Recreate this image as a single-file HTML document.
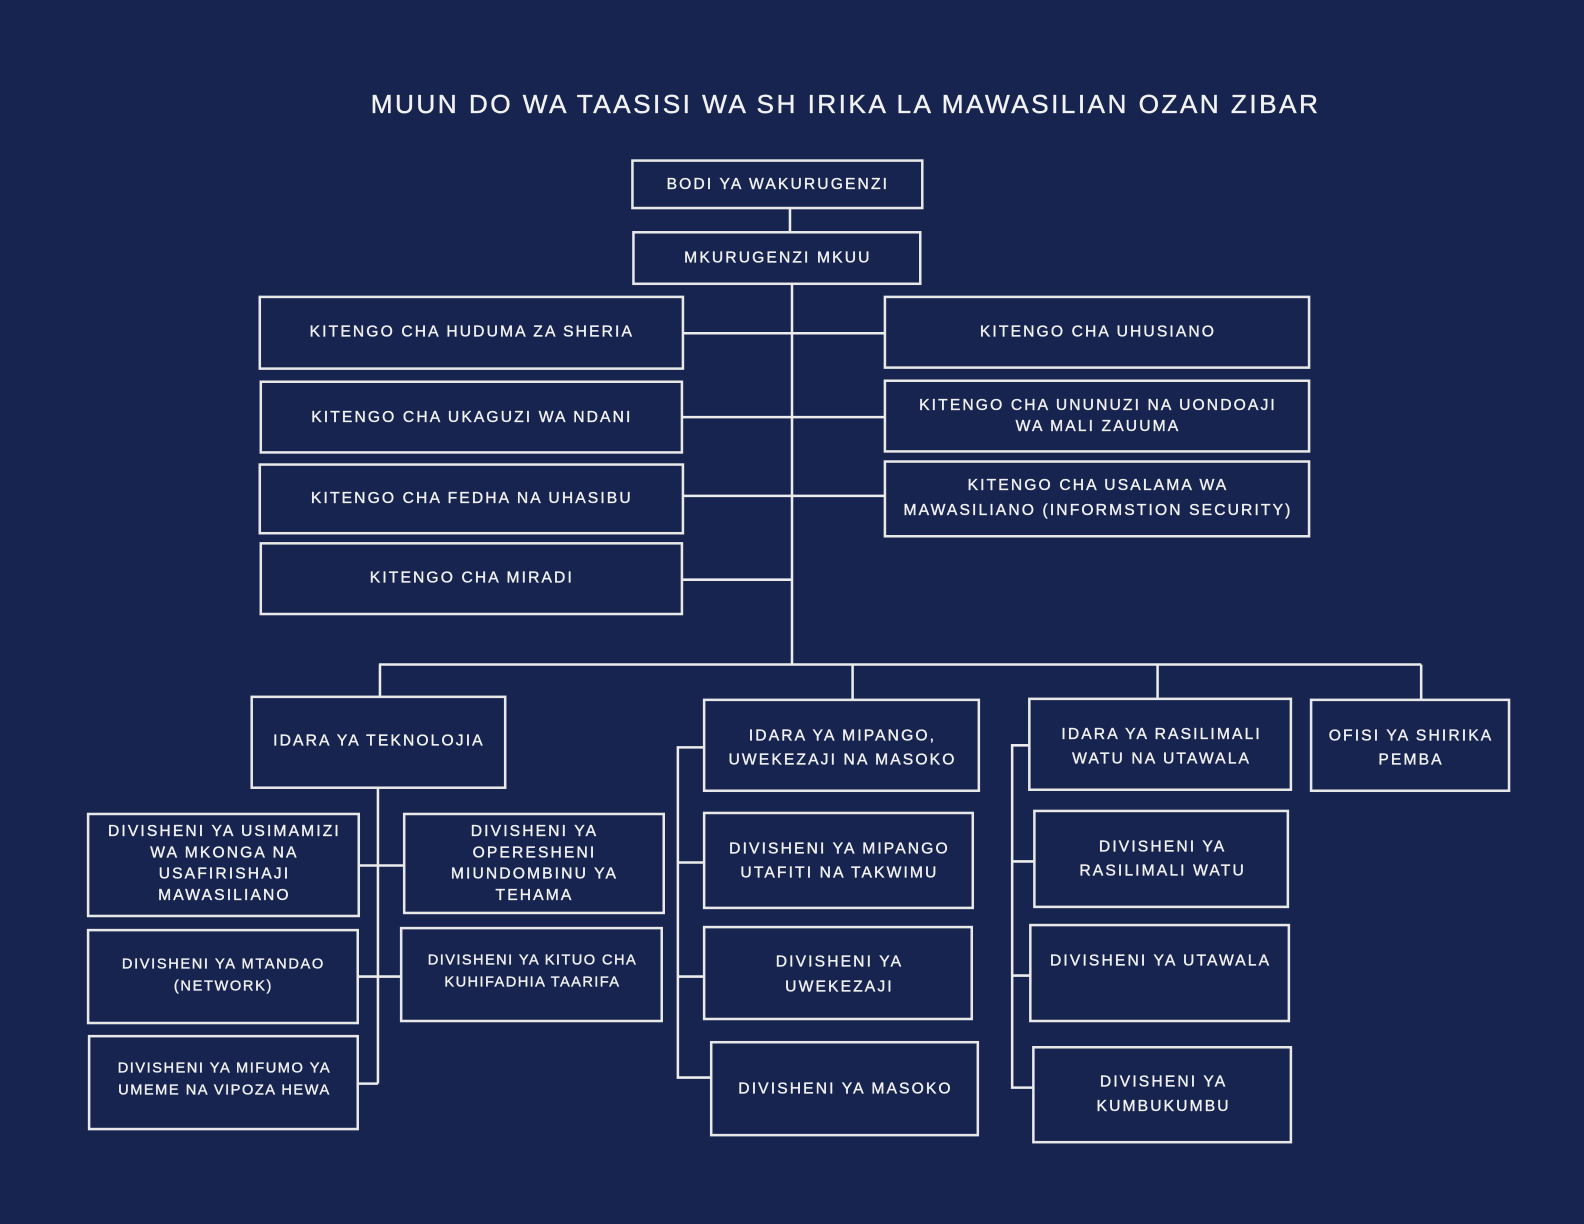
<!DOCTYPE html>
<html><head><meta charset="utf-8"><style>
html,body{margin:0;padding:0;background:#17244f;}
svg{display:block;}
text{font-family:"Liberation Sans",sans-serif;fill:#f2f2f2;font-size:15.5px;text-anchor:middle;letter-spacing:2.1px;stroke:#f2f2f2;stroke-width:0.35px;}
rect{fill:#17244f;stroke:#e8e8e8;stroke-width:2.5;}
line,polyline{stroke:#ececec;stroke-width:2.5;fill:none;}
</style></head><body>
<svg width="1584" height="1224" viewBox="0 0 1568 1212" xmlns="http://www.w3.org/2000/svg">
<rect x="0" y="0" width="1568" height="1212" style="stroke:none"/>
<text x="837" y="112" style="font-size:26px;letter-spacing:2.4px">MUUN DO WA TAASISI WA SH IRIKA LA MAWASILIAN OZAN ZIBAR</text>

<!-- connectors -->
<line x1="782" y1="206" x2="782" y2="230"/>
<line x1="784" y1="281" x2="784" y2="658"/>
<line x1="676" y1="330" x2="876" y2="330"/>
<line x1="675" y1="413" x2="876" y2="413"/>
<line x1="676" y1="491" x2="876" y2="491"/>
<line x1="675" y1="574" x2="784" y2="574"/>
<line x1="375" y1="658" x2="1407" y2="658"/>
<line x1="376" y1="658" x2="376" y2="690"/>
<line x1="844" y1="658" x2="844" y2="693"/>
<line x1="1146" y1="658" x2="1146" y2="692"/>
<line x1="1407" y1="658" x2="1407" y2="693"/>

<line x1="374" y1="780" x2="374" y2="1073"/>
<line x1="355" y1="857" x2="400" y2="857"/>
<line x1="354" y1="967" x2="397" y2="967"/>
<line x1="354" y1="1073" x2="374" y2="1073"/>

<polyline points="697,740 671,740 671,1067 704,1067"/>
<line x1="671" y1="854" x2="697" y2="854"/>
<line x1="671" y1="967" x2="697" y2="967"/>

<polyline points="1019,738 1002,738 1002,1077 1023,1077"/>
<line x1="1002" y1="853" x2="1024" y2="853"/>
<line x1="1002" y1="966" x2="1020" y2="966"/>

<!-- boxes -->
<rect x="626" y="159" width="287" height="47"/><text x="770" y="187">BODI YA WAKURUGENZI</text>
<rect x="627" y="230" width="284" height="51"/><text x="770" y="260">MKURUGENZI MKUU</text>

<rect x="257" y="294" width="419" height="71"/><text x="467" y="333">KITENGO CHA HUDUMA ZA SHERIA</text>
<rect x="258" y="378" width="417" height="70"/><text x="467" y="418">KITENGO CHA UKAGUZI WA NDANI</text>
<rect x="257" y="460" width="419" height="68"/><text x="467" y="498">KITENGO CHA FEDHA NA UHASIBU</text>
<rect x="258" y="538" width="417" height="70"/><text x="467" y="577">KITENGO CHA MIRADI</text>

<rect x="876" y="294" width="420" height="70"/><text x="1087" y="333">KITENGO CHA UHUSIANO</text>
<rect x="876" y="377" width="420" height="70"/><text x="1087" y="406">KITENGO CHA UNUNUZI NA UONDOAJI</text><text x="1087" y="427">WA MALI ZAUUMA</text>
<rect x="876" y="457" width="420" height="74"/><text x="1087" y="485">KITENGO CHA USALAMA WA</text><text x="1087" y="510">MAWASILIANO (INFORMSTION SECURITY)</text>

<rect x="249" y="690" width="251" height="90"/><text x="375" y="738">IDARA YA TEKNOLOJIA</text>
<rect x="697" y="693" width="272" height="90"/><text x="834" y="733">IDARA YA MIPANGO,</text><text x="834" y="757">UWEKEZAJI NA MASOKO</text>
<rect x="1019" y="692" width="259" height="90"/><text x="1150" y="732">IDARA YA RASILIMALI</text><text x="1150" y="756">WATU NA UTAWALA</text>
<rect x="1298" y="693" width="196" height="90"/><text x="1397" y="733">OFISI YA SHIRIKA</text><text x="1397" y="757">PEMBA</text>

<rect x="87" y="806" width="268" height="101"/><text x="222" y="828">DIVISHENI YA USIMAMIZI</text><text x="222" y="849">WA MKONGA NA</text><text x="222" y="870">USAFIRISHAJI</text><text x="222" y="891">MAWASILIANO</text>
<rect x="400" y="806" width="257" height="98"/><text x="529" y="828">DIVISHENI YA</text><text x="529" y="849">OPERESHENI</text><text x="529" y="870">MIUNDOMBINU YA</text><text x="529" y="891">TEHAMA</text>
<rect x="87" y="921" width="267" height="92"/><text x="221" y="959" style="font-size:14.5px;letter-spacing:1.6px">DIVISHENI YA MTANDAO</text><text x="221" y="981" style="font-size:14.5px;letter-spacing:1.6px">(NETWORK)</text>
<rect x="397" y="919" width="258" height="92"/><text x="527" y="955" style="font-size:14.5px;letter-spacing:1.4px">DIVISHENI YA KITUO CHA</text><text x="527" y="977" style="font-size:14.5px;letter-spacing:1.4px">KUHIFADHIA TAARIFA</text>
<rect x="88" y="1026" width="266" height="92"/><text x="222" y="1062" style="font-size:14.5px;letter-spacing:1.5px">DIVISHENI YA MIFUMO YA</text><text x="222" y="1084" style="font-size:14.5px;letter-spacing:1.5px">UMEME NA VIPOZA HEWA</text>

<rect x="697" y="805" width="266" height="94"/><text x="831" y="845">DIVISHENI YA MIPANGO</text><text x="831" y="869">UTAFITI NA TAKWIMU</text>
<rect x="697" y="918" width="265" height="91"/><text x="831" y="957">DIVISHENI YA</text><text x="831" y="982">UWEKEZAJI</text>
<rect x="704" y="1032" width="264" height="92"/><text x="837" y="1083">DIVISHENI YA MASOKO</text>

<rect x="1024" y="803" width="251" height="95"/><text x="1151" y="843">DIVISHENI YA</text><text x="1151" y="867">RASILIMALI WATU</text>
<rect x="1020" y="916" width="256" height="95"/><text x="1149" y="956">DIVISHENI YA UTAWALA</text>
<rect x="1023" y="1037" width="255" height="94"/><text x="1152" y="1076">DIVISHENI YA</text><text x="1152" y="1100">KUMBUKUMBU</text>
</svg>
</body></html>
